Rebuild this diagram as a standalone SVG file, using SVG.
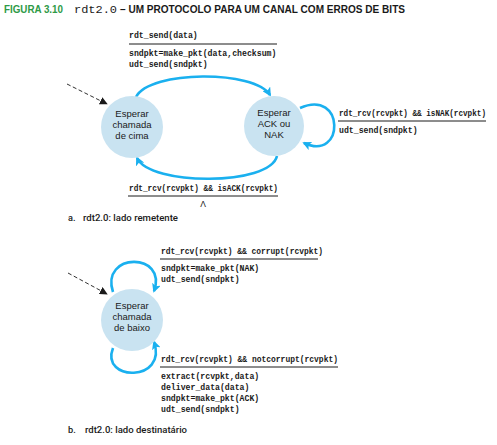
<svg xmlns="http://www.w3.org/2000/svg" width="497" height="445" viewBox="0 0 497 445">
<style>
.mono{font-family:"Liberation Mono","DejaVu Sans Mono",monospace;font-weight:bold;font-size:8.2px;fill:#1a1a1a}
.node{fill:#c9e3f1}
.nt{font-family:"Liberation Sans",Arial,sans-serif;font-size:9.5px;fill:#1a1a1a;text-anchor:middle}
.edge{fill:none;stroke:#1ab0ef;stroke-width:2.6}
.dash{fill:none;stroke:#1a1a1a;stroke-width:0.9;stroke-dasharray:4,2.5}
.rule{stroke:#1a1a1a;stroke-width:1}
.cap{font-family:Roboto,"Liberation Sans",sans-serif;font-weight:500;font-size:9.2px;fill:#1a1a1a}
</style>
<defs>
<marker id="ab" markerUnits="userSpaceOnUse" markerWidth="9" markerHeight="9" viewBox="0 0 10 10" refX="8" refY="5" orient="auto">
<path d="M0,0 L10,5 L0,10 L2.5,5 z" fill="#1ab0ef"/>
</marker>
<marker id="ak" markerUnits="userSpaceOnUse" markerWidth="8" markerHeight="8" viewBox="0 0 10 10" refX="9" refY="5" orient="auto">
<path d="M0,0 L10,5 L0,10 z" fill="#1a1a1a"/>
</marker>
</defs>
<g id="title">
<text x="4" y="13" font-family="Liberation Sans,Arial,sans-serif" font-weight="bold" font-size="10" fill="#2e9a47" textLength="59" lengthAdjust="spacingAndGlyphs">FIGURA 3.10</text>
<text x="74" y="13" font-family="Liberation Mono,monospace" font-size="11" fill="#1a1a1a" textLength="43" lengthAdjust="spacingAndGlyphs">rdt2.0</text>
<text x="120" y="13" font-family="Liberation Sans,Arial,sans-serif" font-weight="bold" font-size="10" fill="#1a1a1a" textLength="285" lengthAdjust="spacingAndGlyphs">– UM PROTOCOLO PARA UM CANAL COM ERROS DE BITS</text>
</g>
<g id="connectors">
<path class="edge" d="M136 97 C150 70, 255 70, 270 95" marker-end="url(#ab)"/>
<path class="edge" d="M277 156 C270 186, 150 186, 137 158" marker-end="url(#ab)"/>
<path class="edge" d="M300 108 C345 88, 345 162, 304 143" marker-end="url(#ab)"/>
<path class="dash" d="M67 84 L107 104" marker-end="url(#ak)"/>
<path class="edge" d="M113 292 C100 252, 168 252, 154 291" marker-end="url(#ab)"/>
<path class="edge" d="M113 348 C100 382, 168 382, 154 342" marker-end="url(#ab)"/>
<path class="dash" d="M68 273 L107 294" marker-end="url(#ak)"/>
</g>
<g id="s1">
<circle class="node" cx="132" cy="127" r="31"/>
<text class="nt" x="132" y="117">Esperar</text>
<text class="nt" x="132" y="128">chamada</text>
<text class="nt" x="132" y="139">de cima</text>
</g>
<g id="s2">
<circle class="node" cx="274" cy="126" r="30"/>
<text class="nt" x="274" y="116">Esperar</text>
<text class="nt" x="274" y="127">ACK ou</text>
<text class="nt" x="274" y="138">NAK</text>
</g>
<g id="s3">
<circle class="node" cx="132" cy="320" r="31"/>
<text class="nt" x="132" y="309">Esperar</text>
<text class="nt" x="132" y="320">chamada</text>
<text class="nt" x="132" y="331">de baixo</text>
</g>
<g id="labels">
<text class="mono" x="129" y="38">rdt_send(data)</text>
<line class="rule" x1="129" y1="44" x2="277" y2="44"/>
<text class="mono" x="129" y="56">sndpkt=make_pkt(data,checksum)</text>
<text class="mono" x="129" y="67">udt_send(sndpkt)</text>

<text class="mono" x="339" y="116" textLength="147" lengthAdjust="spacingAndGlyphs">rdt_rcv(rcvpkt) &amp;&amp; isNAK(rcvpkt)</text>
<line class="rule" x1="338" y1="121" x2="486" y2="121"/>
<text class="mono" x="339" y="133">udt_send(sndpkt)</text>

<text class="mono" x="129" y="191" textLength="149" lengthAdjust="spacingAndGlyphs">rdt_rcv(rcvpkt) &amp;&amp; isACK(rcvpkt)</text>
<line class="rule" x1="128" y1="196" x2="278" y2="196"/>
<text x="203" y="207" font-family="Liberation Sans,sans-serif" font-size="8.5" fill="#1a1a1a" text-anchor="middle">Λ</text>
<text class="cap" x="68" y="221">a.<tspan x="83" textLength="95" lengthAdjust="spacingAndGlyphs">rdt2.0: lado remetente</tspan></text>

<text class="mono" x="161" y="254" textLength="162" lengthAdjust="spacingAndGlyphs">rdt_rcv(rcvpkt) &amp;&amp; corrupt(rcvpkt)</text>
<line class="rule" x1="160" y1="259" x2="318" y2="259"/>
<text class="mono" x="161" y="271">sndpkt=make_pkt(NAK)</text>
<text class="mono" x="161" y="282">udt_send(sndpkt)</text>

<text class="mono" x="161" y="362" textLength="177" lengthAdjust="spacingAndGlyphs">rdt_rcv(rcvpkt) &amp;&amp; notcorrupt(rcvpkt)</text>
<line class="rule" x1="160" y1="367" x2="338" y2="367"/>
<text class="mono" x="161" y="379">extract(rcvpkt,data)</text>
<text class="mono" x="161" y="390">deliver_data(data)</text>
<text class="mono" x="161" y="401">sndpkt=make_pkt(ACK)</text>
<text class="mono" x="161" y="412">udt_send(sndpkt)</text>
<text class="cap" x="68" y="433">b.<tspan x="85" textLength="102" lengthAdjust="spacingAndGlyphs">rdt2.0: lado destinatário</tspan></text>
</g>
</svg>
